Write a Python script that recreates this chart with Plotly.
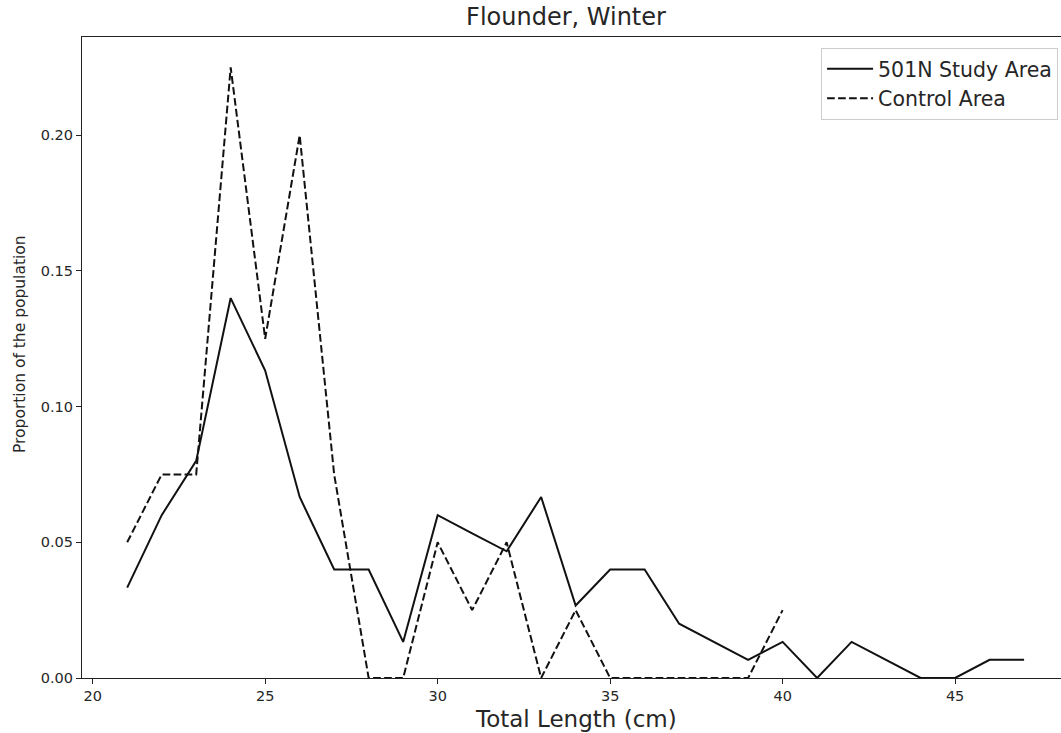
import plotly.graph_objects as go

# Fish total length classes (cm)
lengths = list(range(21, 48))

# Proportion of the population per length class, 501N study area
study_area = [
    0.0333, 0.0600, 0.0800, 0.1400, 0.1133, 0.0667, 0.0400, 0.0400, 0.0133,
    0.0600, 0.0533, 0.0467, 0.0667, 0.0267, 0.0400, 0.0400, 0.0200, 0.0133,
    0.0067, 0.0133, 0.0000, 0.0133, 0.0067, 0.0000, 0.0000, 0.0067, 0.0067,
]

# Control area (recorded up to 40 cm)
control_lengths = list(range(21, 41))
control_area = [
    0.050, 0.075, 0.075, 0.225, 0.125, 0.200, 0.075, 0.000, 0.000, 0.050,
    0.025, 0.050, 0.000, 0.025, 0.000, 0.000, 0.000, 0.000, 0.000, 0.025,
]

x_ticks = [20, 25, 30, 35, 40, 45]
y_ticks = [0.00, 0.05, 0.10, 0.15, 0.20]

FONT = "DejaVu Sans"
TEXT = "#262626"

fig = go.Figure()
fig.add_trace(go.Scatter(
    x=lengths, y=study_area, mode="lines", name="501N Study Area",
    line=dict(color="#111111", width=2),
))
fig.add_trace(go.Scatter(
    x=control_lengths, y=control_area, mode="lines", name="Control Area",
    line=dict(color="#111111", width=2, dash="7.7px,3.3px"),
))

fig.update_layout(
    width=1061, height=733,
    margin=dict(l=82, r=0, t=37, b=55),
    paper_bgcolor="white", plot_bgcolor="white",
    font=dict(family=FONT, color=TEXT, size=14),
    showlegend=True,
    legend=dict(
        x=0.997, y=0.983, xanchor="right", yanchor="top",
        bgcolor="rgba(255,255,255,0.8)", bordercolor="#cccccc", borderwidth=1,
        font=dict(family=FONT, size=20.5, color=TEXT),
        itemwidth=46,
    ),
    xaxis=dict(
        range=[19.69, 48.07], tickvals=x_ticks,
        ticktext=[str(v) for v in x_ticks],
        showgrid=False, zeroline=False,
        showline=True, linecolor="#222222", linewidth=1.1, mirror=True,
        ticks="outside", ticklen=5, tickwidth=1.1, tickcolor="#222222",
        tickfont=dict(size=14.5),
    ),
    yaxis=dict(
        range=[0, 0.2362], tickvals=y_ticks,
        ticktext=[f"{v:.2f}" for v in y_ticks],
        showgrid=False, zeroline=False,
        showline=True, linecolor="#222222", linewidth=1.1,
        ticks="outside", ticklen=5, tickwidth=1.1, tickcolor="#222222",
        tickfont=dict(size=14.5),
    ),
    title=dict(
        text="Flounder, Winter", x=566 / 1061, xanchor="center",
        y=1 - 17 / 733, yanchor="middle", xref="container", yref="container",
        font=dict(family=FONT, size=24, color=TEXT),
    ),
    annotations=[
        dict(text="Total Length (cm)", xref="paper", yref="paper",
             x=(575.5 - 82) / 979, y=-(719 - 678) / 641,
             xanchor="center", yanchor="middle", showarrow=False,
             font=dict(family=FONT, size=23, color=TEXT)),
        dict(text="Proportion of the population", xref="paper", yref="paper",
             x=(20 - 82) / 979, y=(678 - 344) / 641, textangle=-90,
             xanchor="center", yanchor="middle", showarrow=False,
             font=dict(family=FONT, size=15.5, color=TEXT)),
    ],
)

fig.write_html("out.html")
